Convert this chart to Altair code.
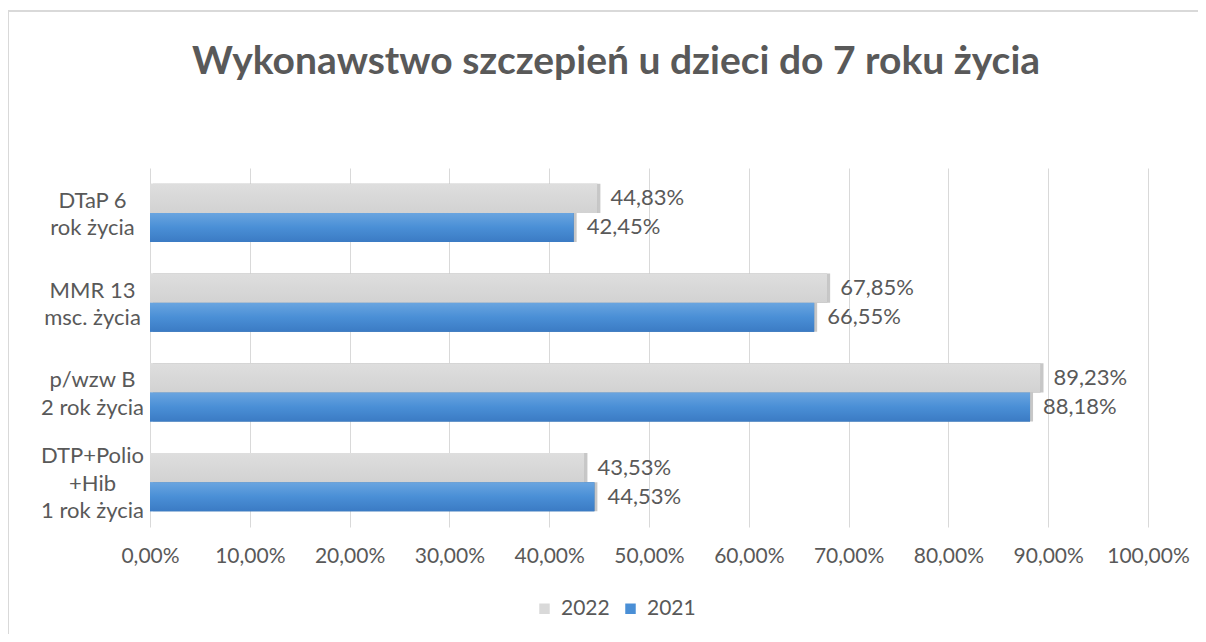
import altair as alt
import pandas as pd

title_text = "Wykonawstwo szczepień u dzieci do 7 roku życia"
categories = ["DTaP 6\nrok życia", "MMR 13\nmsc. życia", "p/wzw B\n2 rok życia", "DTP+Polio\n+Hib\n1 rok życia"]
series = ["2022", "2021"]
values_2022 = [44.83, 67.85, 89.23, 43.53]
values_2021 = [42.45, 66.55, 88.18, 44.53]
colors = ["#d9d9d9", "#4a8fd6"]
x_ticks = [0, 10, 20, 30, 40, 50, 60, 70, 80, 90, 100]

rows = []
for c, v in zip(categories, values_2022):
    rows.append({"cat": c, "series": "2022", "value": v})
for c, v in zip(categories, values_2021):
    rows.append({"cat": c, "series": "2021", "value": v})
df = pd.DataFrame(rows)

FONT = "Lato"
TXT = "#595959"

x_enc = alt.X("value:Q", scale=alt.Scale(domain=[0, 100], nice=False),
              axis=alt.Axis(values=x_ticks, title=None, grid=True, gridColor="#d9d9d9",
                            domain=False, ticks=False, labelPadding=18, labelOverlap=False,
                            labelFlush=False,
                            labelExpr="replace(format(datum.value, '.2f'), '.', ',') + '%'",
                            labelFont=FONT, labelFontSize=21, labelColor=TXT))
y_enc = alt.Y("cat:N", sort=categories,
              scale=alt.Scale(paddingInner=0.353, paddingOuter=0.1765),
              axis=alt.Axis(title=None, domain=False, ticks=False, labelAlign="center",
                            labelPadding=58, labelExpr="split(datum.label, '\\n')",
                            labelFont=FONT, labelFontSize=22, labelColor=TXT,
                            labelLineHeight=27.5,
                            labelOffset={"condition": {"test": "indexof(datum.value, 'Hib') >= 0",
                                                       "value": -26},
                                         "value": -12}))
yoff = alt.YOffset("series:N", sort=series, scale=alt.Scale(domain=series, paddingInner=0))

base = alt.Chart(df)

bars = base.mark_bar().encode(
    x=x_enc, y=y_enc, yOffset=yoff,
    color=alt.Color("series:N", scale=alt.Scale(domain=series, range=colors),
                    legend=alt.Legend(title=None, orient="none", direction="horizontal",
                                      legendX=384, legendY=430, symbolType="square",
                                      symbolSize=110, symbolStrokeWidth=0,
                                      labelFont=FONT, labelFontSize=21, labelColor=TXT,
                                      columnPadding=10, labelOffset=6)),
)

shadow = base.mark_bar(color="#000000", opacity=0.22, xOffset=3, x2Offset=3, yOffset=3, y2Offset=3).encode(
    x="value:Q", y=alt.Y("cat:N", sort=categories), yOffset=alt.YOffset("series:N", sort=series))

blue_grad = alt.Gradient(gradient="linear", x1=0, x2=0, y1=0, y2=1,
                         stops=[alt.GradientStop(color="#6aa5e0", offset=0),
                                alt.GradientStop(color="#4a8fd6", offset=0.5),
                                alt.GradientStop(color="#3b7bc4", offset=1)])
gray_grad = alt.Gradient(gradient="linear", x1=0, x2=0, y1=0, y2=1,
                         stops=[alt.GradientStop(color="#dedede", offset=0),
                                alt.GradientStop(color="#d2d2d2", offset=1)])

blue_bars = base.transform_filter("datum.series == '2021'").mark_bar(color=blue_grad).encode(
    x="value:Q", y=alt.Y("cat:N", sort=categories), yOffset=alt.YOffset("series:N", sort=series))
gray_bars = base.transform_filter("datum.series == '2022'").mark_bar(color=gray_grad).encode(
    x="value:Q", y=alt.Y("cat:N", sort=categories), yOffset=alt.YOffset("series:N", sort=series))

labels = base.transform_calculate(
    lbl="replace(format(datum.value, '.2f'), '.', ',') + '%'"
).mark_text(align="left", baseline="middle", dx=13, font=FONT, fontSize=22, color=TXT).encode(
    x="value:Q", y=alt.Y("cat:N", sort=categories), yOffset=alt.YOffset("series:N", sort=series),
    text="lbl:N")

frame_df = pd.DataFrame({"a": [0]})
left_border = alt.Chart(frame_df).mark_rule(color="#d9d9d9", strokeWidth=2).encode(
    x=alt.value(-142), y=alt.value(-157), y2=alt.value(480))
top_border = alt.Chart(frame_df).mark_rule(color="#d9d9d9", strokeWidth=2).encode(
    x=alt.value(-142), x2=alt.value(1100), y=alt.value(-157))
title_mark = alt.Chart(frame_df).mark_text(
    font=FONT, fontSize=39, fontWeight="bold", color=TXT, align="center", baseline="alphabetic"
).encode(x=alt.value(466), y=alt.value(-94), text=alt.value(title_text))

chart = alt.layer(bars, shadow, gray_bars, blue_bars, labels, left_border, top_border, title_mark).properties(
    width=998, height=359,
    autosize=alt.AutoSizeParams(type="none"),
    padding={"left": 142, "top": 160, "right": 50, "bottom": 107},
).configure_view(stroke=None)

chart.save("out.html", embed_options={"renderer": "svg", "actions": False})
